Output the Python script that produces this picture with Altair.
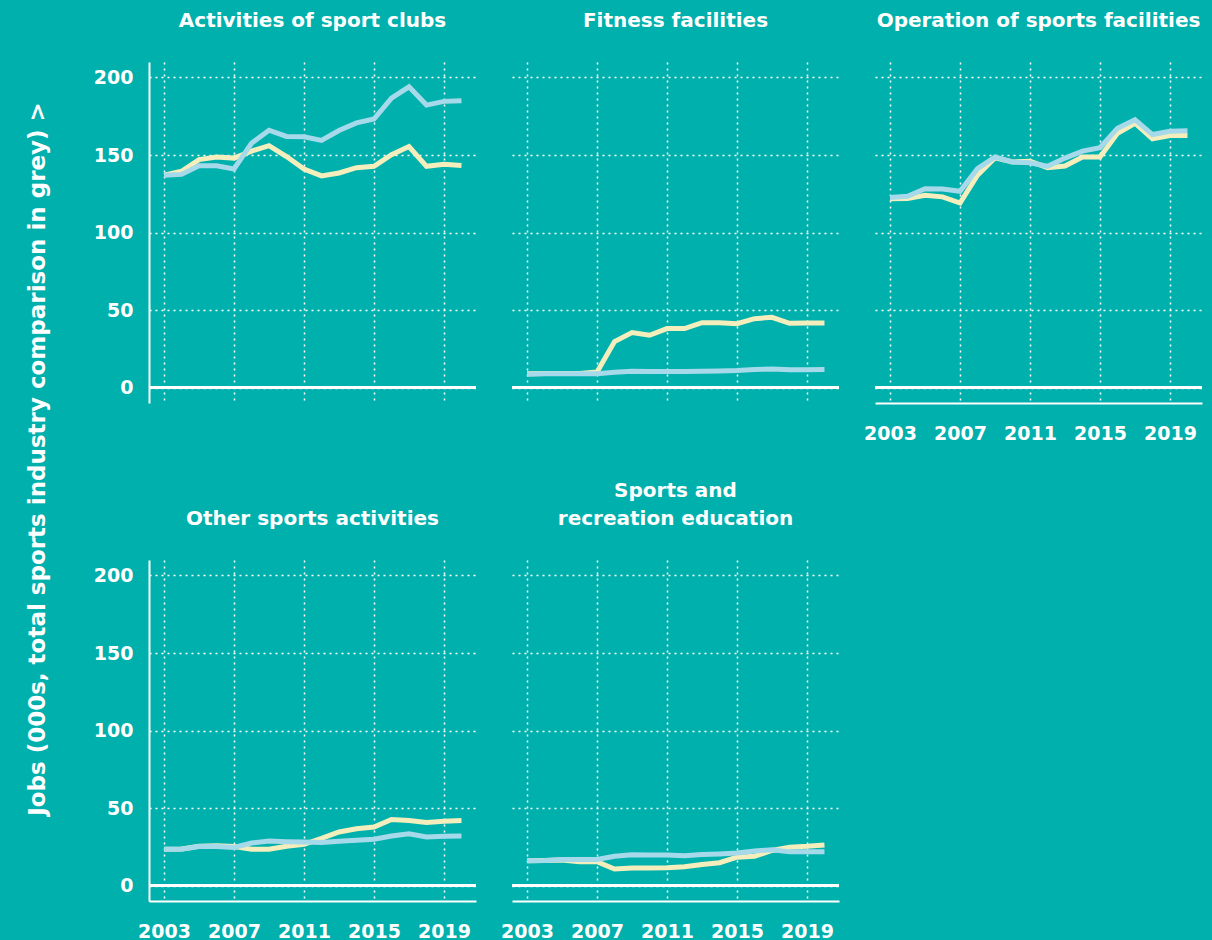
import altair as alt
import pandas as pd

# ---------------- data ----------------
years = list(range(2003, 2021))

panel_titles = [
    "Activities of sport clubs",
    "Fitness facilities",
    "Operation of sports facilities",
    "Other sports activities",
    ["Sports and", "recreation education"],
]

clubs_sector = [137, 139.5, 147, 148.7, 148, 152.5, 156, 149, 141, 136.5, 138.4, 141.8, 142.7, 150.2, 155.5, 142.7, 144, 143.3]
clubs_total = [136.9, 137.5, 143, 143, 141, 157.6, 166, 162, 161.7, 159.4, 165.8, 170.7, 173.2, 186.7, 194, 182.2, 184.6, 185]

fitness_sector = [8.8, 9, 9, 9, 10, 29.6, 35.4, 33.7, 38, 38, 41.8, 41.8, 41.2, 44.4, 45.3, 41.4, 41.6, 41.6]
fitness_total = [8.6, 8.8, 8.8, 8.8, 8.8, 9.9, 10.5, 10.3, 10.3, 10.3, 10.5, 10.7, 10.9, 11.6, 12, 11.4, 11.4, 11.6]

operation_sector = [121.7, 122, 124, 123, 119, 137, 148.2, 145.5, 146, 141.8, 142.9, 148.7, 148.7, 164, 170.5, 160.4, 162.6, 162.6]
operation_total = [122.6, 123.4, 128.3, 128.1, 126.6, 141.2, 148.7, 145.5, 145, 142.7, 148, 152.5, 154.7, 167.3, 172.8, 163.2, 165.3, 165.6]

other_sector = [23.4, 23.6, 25.3, 25.7, 25.1, 23.4, 23.4, 25.3, 26.6, 30.4, 34.5, 36.6, 37.7, 42.6, 41.9, 40.6, 41.5, 41.9]
other_total = [23.4, 23.4, 25.1, 25.1, 24.5, 27.4, 28.7, 28.3, 28.1, 27.7, 28.5, 29.2, 29.8, 31.9, 33.4, 31.3, 31.7, 31.9]

education_sector = [16, 16.2, 16.4, 15.3, 15.3, 10.6, 11.3, 11.3, 11.5, 12.1, 13.6, 14.7, 18.3, 18.9, 22.6, 24.7, 25.3, 26.2]
education_total = [16, 16.2, 16.8, 16.8, 16.8, 18.9, 19.8, 19.6, 19.6, 19.2, 20, 20.4, 20.9, 22.3, 23, 21.7, 21.7, 21.7]

x_ticks = [2003, 2007, 2011, 2015, 2019]
y_ticks = [0, 50, 100, 150, 200]
y_title = "Jobs (000s, total sports industry comparison in grey) >"

# ---------------- style ----------------
BG = "#00B0AD"
YELLOW = "#F4EDBC"
BLUE = "#A6D9EA"
WHITE = "#FFFFFF"
FONT = "DejaVu Sans"
PW, PH = 327, 341


def panel(title, sector, total, xlab, ylab):
    df = pd.DataFrame({
        "year": years * 2,
        "value": list(sector) + list(total),
        "series": ["sector"] * len(years) + ["total"] * len(years),
    })
    x = alt.X(
        "year:Q",
        scale=alt.Scale(domain=[2002.14, 2020.83], nice=False, zero=False),
        axis=alt.Axis(values=x_ticks, format="d", labels=xlab, domain=xlab,
                      ticks=False, grid=True, title=None, labelPadding=21),
    )
    y = alt.Y(
        "value:Q",
        scale=alt.Scale(domain=[-10, 210], nice=False, zero=False),
        axis=alt.Axis(values=y_ticks, labels=ylab, domain=ylab, ticks=False,
                      grid=True, title=None, labelPadding=16),
    )
    base = alt.Chart(df)
    zero = base.mark_rule(color=WHITE, strokeWidth=2).encode(y=alt.datum(0))
    l1 = base.transform_filter(alt.datum.series == "sector").mark_line(
        color=YELLOW, strokeWidth=5, strokeJoin="miter").encode(x=x, y=y)
    l2 = base.transform_filter(alt.datum.series == "total").mark_line(
        color=BLUE, strokeWidth=5, strokeJoin="miter").encode(x=x, y=y)
    return alt.layer(l1, l2, zero).properties(
        width=PW, height=PH,
        title=alt.TitleParams(text=title, frame="group", anchor="middle",
                              offset=31, fontSize=20, fontWeight="bold",
                              color=WHITE, font=FONT, lineHeight=28),
    )


p1 = panel(panel_titles[0], clubs_sector, clubs_total, False, True)
p2 = panel(panel_titles[1], fitness_sector, fitness_total, False, False)
p3 = panel(panel_titles[2], operation_sector, operation_total, True, False)
p4 = panel(panel_titles[3], other_sector, other_total, True, True)
p5 = panel(panel_titles[4], education_sector, education_total, True, False)

row1 = alt.hconcat(p1, p2, p3, spacing=36, bounds="flush")
row2 = alt.hconcat(p4, p5, spacing=36, bounds="flush")
grid = alt.vconcat(row1, row2, spacing=498, bounds="flush")

title_chart = alt.Chart(pd.DataFrame({"t": [y_title]})).mark_text(
    angle=270, fontSize=23, fontWeight="bold", color=WHITE, font=FONT,
    align="center", baseline="middle",
).encode(text="t:N", x=alt.value(29), y=alt.value(397)).properties(width=40, height=800)

chart = alt.hconcat(title_chart, grid, spacing=100, bounds="flush").properties(
    background=BG, padding={"top": 10, "left": 0, "right": 0, "bottom": 0},
).configure_view(stroke="transparent").configure_axis(
    labelColor=WHITE, labelFont=FONT, labelFontSize=19, labelFontWeight="bold",
    gridColor=WHITE, gridDash=[2, 4], gridWidth=1.5, gridOpacity=1,
    domainColor=WHITE, domainWidth=2,
)

chart.save("out.html", embed_options={
    "renderer": "svg", "actions": False,
    "defaultStyle": (
        "html,body{background:#00B0AD;overflow:hidden;}"
        "body{margin:0 8px 8px 8px;}"
        "#vis.vega-embed,.vega-embed{display:block !important;width:auto !important;}"
        ".vega-embed svg{flex-shrink:0 !important;max-width:none !important;}"
    ),
})
